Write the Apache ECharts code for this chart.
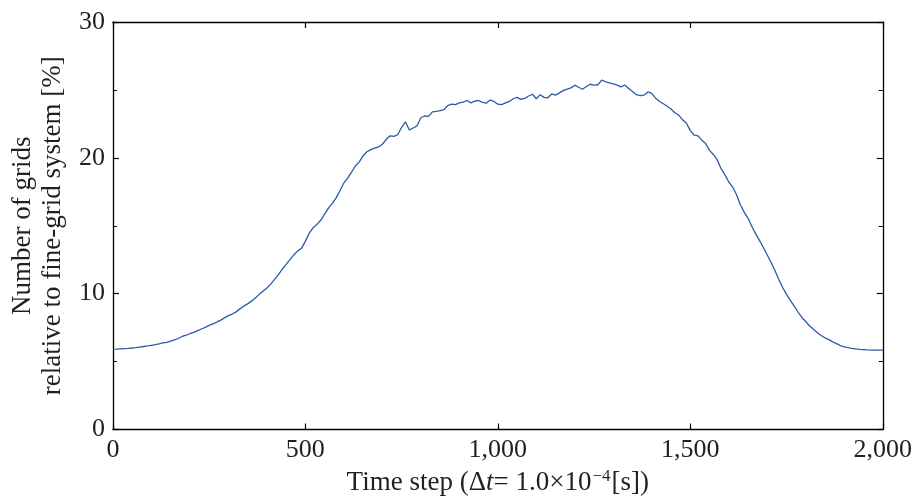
<!DOCTYPE html>
<html><head><meta charset="utf-8">
<script src="https://cdn.jsdelivr.net/npm/echarts@6/dist/echarts.min.js"></script>
<style>html,body{margin:0;padding:0;background:#fff}#c{width:915px;height:502px}</style>
</head><body><div id="c"></div>
<script>
const timeSteps = [];
for (let t = 0; t <= 2000; t += 10) timeSteps.push(t);
const gridPercent = [
5.90,5.91,5.93,5.95,5.97,6.00,6.03,6.07,6.11,6.15,
6.20,6.25,6.31,6.38,6.42,6.50,6.60,6.70,6.85,6.94,
7.05,7.15,7.28,7.40,7.52,7.66,7.78,7.90,8.05,8.22,
8.38,8.50,8.66,8.88,9.08,9.25,9.45,9.68,9.95,10.18,
10.42,10.70,11.05,11.40,11.80,12.15,12.50,12.85,13.15,13.35,
13.85,14.45,14.85,15.10,15.40,15.85,16.30,16.65,17.05,17.60,
18.15,18.50,18.95,19.40,19.70,20.15,20.45,20.60,20.72,20.80,
21.00,21.35,21.62,21.58,21.70,22.25,22.65,22.05,22.20,22.35,
22.95,23.08,23.05,23.38,23.42,23.48,23.55,23.85,23.95,23.92,
24.05,24.10,24.22,24.05,24.18,24.22,24.08,24.02,24.25,24.15,
23.95,23.92,24.05,24.15,24.35,24.45,24.30,24.38,24.55,24.68,
24.35,24.65,24.45,24.42,24.70,24.62,24.78,24.95,25.05,25.15,
25.35,25.20,25.05,25.25,25.42,25.35,25.38,25.72,25.60,25.52,
25.45,25.35,25.22,25.36,25.10,24.88,24.65,24.58,24.62,24.85,
24.75,24.38,24.15,23.98,23.80,23.60,23.32,23.15,22.80,22.55,
22.00,21.68,21.62,21.30,21.05,20.55,20.25,19.85,19.20,18.75,
18.22,17.85,17.30,16.55,16.00,15.55,14.95,14.40,13.90,13.40,
12.85,12.30,11.70,11.05,10.45,9.95,9.50,9.08,8.65,8.25,
7.95,7.62,7.38,7.12,6.92,6.75,6.62,6.45,6.32,6.18,
6.08,6.02,5.97,5.93,5.90,5.88,5.86,5.85,5.85,5.85,
5.85
];
const xTicks = [0, 500, 1000, 1500, 2000];
const yTicks = [0, 10, 20, 30];

const font = 'Liberation Serif';
const txt = '#231f20';
const chart = echarts.init(document.getElementById('c'), null, {renderer: 'canvas'});
const axisLine = {show: true, onZero: false, lineStyle: {color: '#000', width: 1.3}};
const majorTick = {show: true, inside: true, length: 6, lineStyle: {color: '#000', width: 1.2}};
const minorTick = {show: true, splitNumber: 2, length: 4, lineStyle: {color: '#000', width: 1}};
const fmtX = v => v.toLocaleString('en-US');
chart.setOption({
  animation: false,
  backgroundColor: '#fff',
  grid: {left: 112, right: 30, top: 22, bottom: 72.5, containLabel: false},
  xAxis: [{
    type: 'value', min: xTicks[0], max: xTicks[xTicks.length - 1], interval: 500,
    axisLine: axisLine, axisTick: majorTick, splitLine: {show: false},
    axisLabel: {color: txt, fontFamily: font, fontSize: 26, margin: 8, formatter: fmtX},
    name: 'Time step (Δ{it|t}= 1.0×10{sup|−4}[s])',
    nameLocation: 'middle', nameGap: 36,
    nameTextStyle: {color: txt, fontFamily: font, fontSize: 27,
      rich: {it: {fontFamily: font, fontSize: 27, fontStyle: 'italic', color: txt},
             sup: {fontFamily: font, fontSize: 17, color: txt, padding: [0, 1, 12, 1]}}}
  }, {
    type: 'value', position: 'top', min: 0, max: 2000, interval: 500,
    axisLine: axisLine, axisTick: majorTick,
    axisLabel: {show: false}, splitLine: {show: false}
  }],
  yAxis: [{
    type: 'value', min: yTicks[0], max: yTicks[yTicks.length - 1], interval: 10,
    axisLine: axisLine, axisTick: majorTick, minorTick: minorTick,
    splitLine: {show: false},
    axisLabel: {color: txt, fontFamily: font, fontSize: 26, margin: 8},
    name: 'Number of grids\nrelative to fine-grid system [%]',
    nameLocation: 'middle', nameGap: 37, nameRotate: 90,
    nameTextStyle: {color: txt, fontFamily: font, fontSize: 27, lineHeight: 30, align: 'center'}
  }, {
    type: 'value', position: 'right', min: 0, max: 30, interval: 10,
    axisLine: axisLine, axisTick: majorTick, minorTick: minorTick,
    axisLabel: {show: false}, splitLine: {show: false}
  }],
  series: [{
    type: 'line', xAxisIndex: 0, yAxisIndex: 0,
    data: timeSteps.map((t, i) => [t, gridPercent[i]]),
    showSymbol: false, symbol: 'none', smooth: false,
    lineStyle: {color: '#2a5aa8', width: 1.3}
  }]
});
</script></body></html>
